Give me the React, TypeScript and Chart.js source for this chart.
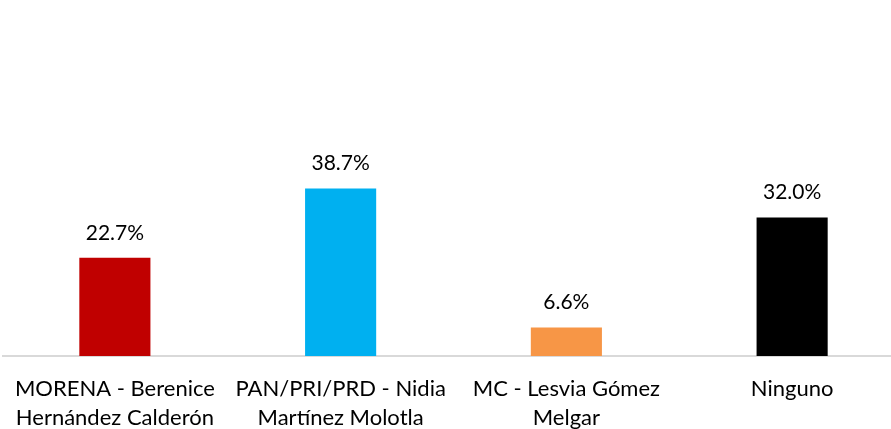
import React, { useEffect, useRef } from "react";
import { Chart, registerables } from "chart.js";

Chart.register(...registerables);

const categories: string[][] = [
  ["MORENA - Berenice", "Hernández Calderón"],
  ["PAN/PRI/PRD - Nidia", "Martínez Molotla"],
  ["MC - Lesvia Gómez", "Melgar"],
  ["Ninguno"],
];
const values: number[] = [22.7, 38.7, 6.6, 32.0];
const colors: string[] = ["#C00000", "#00B0F0", "#F79646", "#000000"];

const FONT = "Lato, 'Open Sans', sans-serif";

const dataLabels = {
  id: "dataLabels",
  afterDatasetsDraw(chart: any) {
    const ctx = chart.ctx;
    const meta = chart.getDatasetMeta(0);
    ctx.save();
    ctx.font = `21px ${FONT}`;
    ctx.fillStyle = "#000";
    ctx.textAlign = "center";
    ctx.textBaseline = "middle";
    meta.data.forEach((bar: any, i: number) => {
      ctx.fillText(values[i].toFixed(1) + "%", bar.x, bar.y - 25);
    });
    ctx.restore();
  },
};

export default function App() {
  const ref = useRef<HTMLCanvasElement>(null);
  useEffect(() => {
    if (!ref.current) return;
    const chart = new Chart(ref.current, {
      type: "bar",
      data: {
        labels: categories,
        datasets: [
          {
            data: values,
            backgroundColor: colors,
            barPercentage: 0.315,
            categoryPercentage: 1,
          },
        ],
      },
      options: {
        responsive: false,
        animation: false,
        layout: { padding: { top: 10, left: 0, right: 0, bottom: 0 } },
        plugins: { legend: { display: false }, tooltip: { enabled: false } },
        scales: {
          x: {
            grid: { display: false, drawTicks: false },
            border: { display: true, color: "#d9d9d9", width: 2 },
            ticks: {
              color: "#000",
              font: { family: FONT, size: 22, lineHeight: 1.32 },
              padding: 18,
              maxRotation: 0,
              autoSkip: false,
            },
            afterFit: (scale: any) => {
              scale.height = 73;
              scale.paddingLeft = 0;
              scale.paddingRight = 0;
            },
          },
          y: {
            display: false,
            min: 0,
            max: 80,
          },
        },
      },
      plugins: [dataLabels],
    });
    return () => chart.destroy();
  }, []);
  return (
    <div
      style={{
        position: "fixed",
        left: 0,
        top: 0,
        width: 891,
        height: 429,
        overflow: "hidden",
        background: "#fff",
      }}
    >
      <canvas
        ref={ref}
        width={903}
        height={429}
        style={{ position: "absolute", left: 2, top: 0, width: 903, height: 429 }}
      />
    </div>
  );
}
